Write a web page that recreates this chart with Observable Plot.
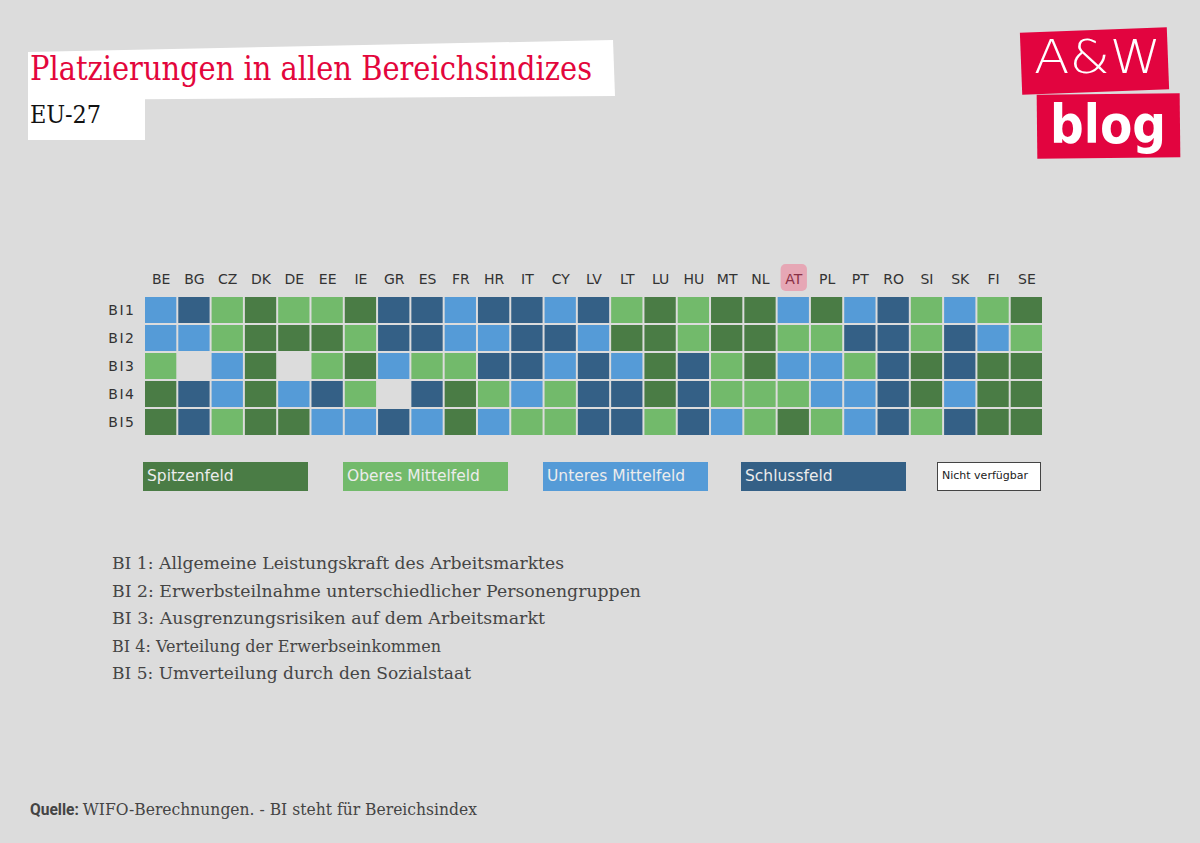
<!DOCTYPE html>
<html>
<head>
<meta charset="utf-8">
<script src="https://cdn.jsdelivr.net/npm/d3@7"></script>
<script src="https://cdn.jsdelivr.net/npm/@observablehq/plot@0.6"></script>
<style>
  html, body { margin: 0; padding: 0; background: #dcdcdc; }
  #page { position: relative; width: 1200px; height: 843px; overflow: hidden; background: #dcdcdc; }
  .abs { position: absolute; white-space: nowrap; }
  .fit { transform-origin: 0 50%; display: inline-block; }
  #chart { position: absolute; left: 0; top: 250px; }
  .leg { position: absolute; top: 462px; height: 29px; box-sizing: border-box; font-family: "DejaVu Sans", sans-serif; font-size: 15.5px; color: #ececec; line-height: 29px; padding-left: 4px; }
  .expl { font-family: "DejaVu Serif", serif; font-size: 17px; color: #454545; }
</style>
</head>
<body>
<div id="page">
  <div class="abs" style="left:28px;top:38px;width:590px;height:64px;background:#fff;clip-path:polygon(0 14px,585px 2px,587px 58px,0 62px);"></div>
  <div class="abs" style="left:28px;top:97px;width:117px;height:43px;background:#fff;"></div>
  <div class="abs" style="left:30px;top:49px;font-family:'DejaVu Serif',serif;font-size:33px;color:#e3063c;"><span class="fit" data-w="562">Platzierungen in allen Bereichsindizes</span></div>
  <div class="abs" style="left:30px;top:101px;font-family:'DejaVu Serif',serif;font-size:24px;color:#111;"><span class="fit" data-w="71">EU-27</span></div>

  <div class="abs" style="left:1021px;top:30px;width:147px;height:62px;background:#e2043f;transform:rotate(-2.2deg);"></div>
  <div class="abs" style="left:1037px;top:94px;width:143px;height:64px;background:#e2043f;transform:rotate(-0.6deg);"></div>
  <div class="abs" style="left:1034px;top:30px;font-family:'DejaVu Sans',sans-serif;font-size:46px;color:#fff;font-weight:200;"><span class="fit" data-w="127">A&amp;W</span></div>
  <div class="abs" style="left:1050px;top:93px;font-family:'DejaVu Sans',sans-serif;font-size:54px;color:#fff;font-weight:bold;"><span class="fit" data-w="116">blog</span></div>

  <div id="chart"></div>

  <div id="legend"></div>

  <div id="expl"></div>

  <div class="abs" style="left:30px;top:799px;font-size:17px;color:#444;"><span class="fit" data-w="447"><b style="font-family:'Roboto',sans-serif;">Quelle:</b> <span style="font-family:'DejaVu Serif',serif;">WIFO-Berechnungen. - BI steht für Bereichsindex</span></span></div>
</div>
<script>
// ---------------- data ----------------
const countries = ["BE","BG","CZ","DK","DE","EE","IE","GR","ES","FR","HR","IT","CY","LV","LT","LU","HU","MT","NL","AT","PL","PT","RO","SI","SK","FI","SE"];
const indices = ["BI1","BI2","BI3","BI4","BI5"];
// S = Spitzenfeld, O = Oberes Mittelfeld, U = Unteres Mittelfeld, L = Schlussfeld, N = nicht verfügbar
const bi1 = ["U","L","O","S","O","O","S","L","L","U","L","L","U","L","O","S","O","S","S","U","S","U","L","O","U","O","S"];
const bi2 = ["U","U","O","S","S","S","O","L","L","U","U","L","L","U","S","S","O","S","S","O","O","L","L","O","L","U","O"];
const bi3 = ["O","N","U","S","N","O","S","U","O","O","L","L","U","L","U","S","L","O","S","U","U","O","L","S","L","S","S"];
const bi4 = ["S","L","U","S","U","L","O","N","L","S","O","U","O","L","L","S","L","O","O","O","U","U","L","S","U","S","S"];
const bi5 = ["S","L","O","S","S","U","U","L","U","S","U","O","O","L","L","O","L","U","O","S","O","U","L","O","L","S","S"];
const categoryCodes = ["S","O","U","L"];
const categoryNames = ["Spitzenfeld","Oberes Mittelfeld","Unteres Mittelfeld","Schlussfeld"];
const categoryColors = ["#4a7c45","#72ba6b","#559bd7","#346086"];
const highlighted = ["AT"];
const definitions = [
  "BI 1: Allgemeine Leistungskraft des Arbeitsmarktes",
  "BI 2: Erwerbsteilnahme unterschiedlicher Personengruppen",
  "BI 3: Ausgrenzungsrisiken auf dem Arbeitsmarkt",
  "BI 4: Verteilung der Erwerbseinkommen",
  "BI 5: Umverteilung durch den Sozialstaat"
];
const definitionWidths = [452, 529, 433, 329, 359];

// ---------------- table ----------------
const rows = [bi1, bi2, bi3, bi4, bi5];
const table = [];
rows.forEach((r, i) => r.forEach((code, j) => {
  if (code !== "N") table.push({country: countries[j], index: indices[i], code});
}));

const chart = Plot.plot({
  width: 1200,
  height: 200,
  marginTop: 46,
  marginBottom: 14,
  marginLeft: 144,
  marginRight: 157,
  style: {background: "transparent", fontFamily: "'DejaVu Sans', sans-serif", fontSize: "14px", color: "#333"},
  x: {domain: countries, padding: 0, round: false},
  y: {domain: indices, padding: 0, round: false},
  color: {domain: categoryCodes, range: categoryColors},
  marks: [
    Plot.cell(highlighted.map(c => ({country: c, index: indices[0]})), {
      x: "country", y: "index", dy: -33, fill: "#e6a7b5", rx: 5,
      insetLeft: 4, insetRight: 3, insetTop: 1, insetBottom: 0
    }),
    Plot.axisX({anchor: "top", tickSize: 0, tickPadding: 13, label: null, fill: "#333"}),
    Plot.axisY({anchor: "left", tickSize: 0, tickPadding: 9, label: null, fill: "#333"}),
    Plot.cell(table, {x: "country", y: "index", fill: "code", inset: 1})
  ]
});
document.getElementById("chart").appendChild(chart);
// style axis labels
d3.select(chart).selectAll("[aria-label='y-axis tick label'] text").style("letter-spacing", "1.5px");
d3.select(chart).selectAll("[aria-label='x-axis tick label'] text").each(function() {
  if (highlighted.includes(this.textContent)) d3.select(this).attr("fill", "#8a3146");
});

// ---------------- legend ----------------
const legendX = [143, 343, 543, 741];
const legend = document.getElementById("legend");
categoryNames.forEach((name, i) => {
  const d = document.createElement("div");
  d.className = "leg";
  d.style.left = legendX[i] + "px";
  d.style.width = "165px";
  d.style.background = categoryColors[i];
  d.textContent = name;
  legend.appendChild(d);
});
const na = document.createElement("div");
na.className = "leg";
na.style.left = "937px"; na.style.width = "104px";
na.style.background = "#fff"; na.style.border = "1.5px solid #444";
na.style.color = "#222"; na.style.fontSize = "11px"; na.style.lineHeight = "26px";
na.textContent = "Nicht verfügbar";
legend.appendChild(na);

// ---------------- definitions ----------------
const ex = document.getElementById("expl");
definitions.forEach((t, i) => {
  const d = document.createElement("div");
  d.className = "abs expl";
  d.style.left = "112px";
  d.style.top = (553 + i * 27.6) + "px";
  d.innerHTML = `<span class="fit" data-w="${definitionWidths[i]}">${t}</span>`;
  ex.appendChild(d);
});

// fit text widths
document.querySelectorAll(".fit").forEach(el => {
  const target = +el.dataset.w;
  const w = el.getBoundingClientRect().width;
  if (w > 0 && target) el.style.transform = `scaleX(${target / w})`;
});
</script>
</body>
</html>
